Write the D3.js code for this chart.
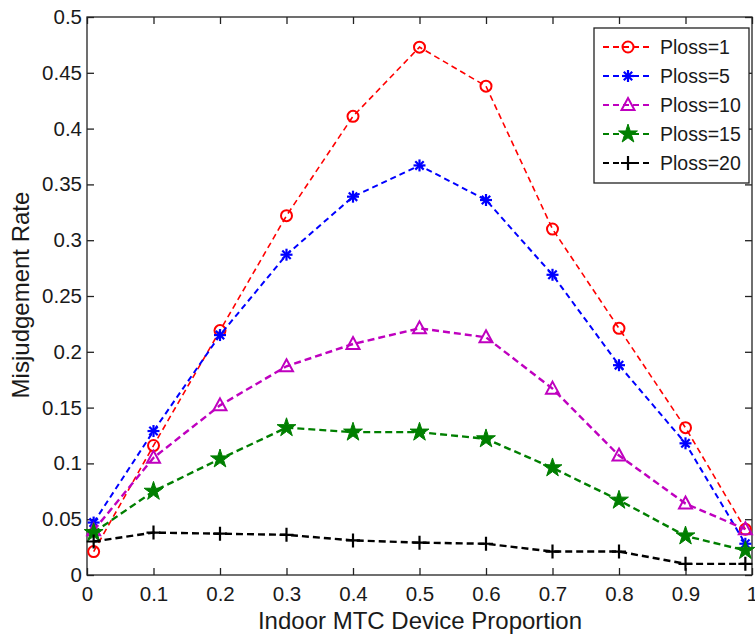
<!DOCTYPE html>
<html>
<head>
<meta charset="utf-8">
<script src="https://cdn.jsdelivr.net/npm/d3@7/dist/d3.min.js"></script>
<style>
  body { margin: 0; background: #fff; }
  svg text { font-family: "Liberation Sans", Arial, sans-serif; fill: #1a1a1a; }
</style>
</head>
<body>
<div id="chart"></div>
<script>
// data
const proportions = [0.01, 0.1, 0.2, 0.3, 0.4, 0.5, 0.6, 0.7, 0.8, 0.9, 0.99];
const ploss1 = [0.021, 0.116, 0.219, 0.322, 0.411, 0.473, 0.438, 0.310, 0.221, 0.132, 0.041];
const ploss5 = [0.047, 0.129, 0.215, 0.287, 0.339, 0.367, 0.336, 0.269, 0.188, 0.118, 0.028];
const ploss10 = [0.040, 0.105, 0.152, 0.187, 0.207, 0.221, 0.213, 0.167, 0.107, 0.064, 0.041];
const ploss15 = [0.038, 0.075, 0.104, 0.132, 0.128, 0.128, 0.122, 0.096, 0.067, 0.035, 0.022];
const ploss20 = [0.030, 0.038, 0.037, 0.036, 0.031, 0.029, 0.028, 0.021, 0.021, 0.010, 0.010];
const xTicks = [0, 0.1, 0.2, 0.3, 0.4, 0.5, 0.6, 0.7, 0.8, 0.9, 1];
const yTicks = [0, 0.05, 0.1, 0.15, 0.2, 0.25, 0.3, 0.35, 0.4, 0.45, 0.5];

const series = [
  { name: 'Ploss=1', values: ploss1, color: '#ff0000', marker: 'circle', width: 1.6, dash: '6,4' },
  { name: 'Ploss=5', values: ploss5, color: '#0000ff', marker: 'asterisk', width: 2, dash: '6,4' },
  { name: 'Ploss=10', values: ploss10, color: '#bf00bf', marker: 'triangle', width: 2.4, dash: '7,4' },
  { name: 'Ploss=15', values: ploss15, color: '#007f00', marker: 'star', width: 2.4, dash: '7,4' },
  { name: 'Ploss=20', values: ploss20, color: '#000000', marker: 'plus', width: 2.4, dash: '7,4' },
];

const width = 755, height = 639;
const m = { left: 87, right: 752, top: 17, bottom: 575 };

const svg = d3.select('#chart').append('svg')
  .attr('width', width).attr('height', height);

const x = d3.scaleLinear().domain([0, 1]).range([m.left, m.right]);
const y = d3.scaleLinear().domain([0, 0.5]).range([m.bottom, m.top]);

const fmt = (d) => String(+d.toFixed(2));

// axes, ticks inward
const axisStyle = (g) => {
  g.select('.domain').remove();
  g.selectAll('.tick line').attr('stroke', '#222').attr('stroke-width', 1.3);
  g.selectAll('.tick text').style('font-size', '20.5px');
};
svg.append('g')
  .attr('transform', `translate(0,${m.bottom})`)
  .call(d3.axisBottom(x).tickValues(xTicks).tickSize(-7).tickPadding(11).tickFormat(fmt))
  .call(axisStyle);
svg.append('g')
  .attr('transform', `translate(0,${m.top})`)
  .call(d3.axisTop(x).tickValues(xTicks).tickSize(-7).tickFormat(''))
  .call(axisStyle);
svg.append('g')
  .attr('transform', `translate(${m.left},0)`)
  .call(d3.axisLeft(y).tickValues(yTicks).tickSize(-7).tickPadding(5).tickFormat(fmt))
  .call(axisStyle);
svg.append('g')
  .attr('transform', `translate(${m.right},0)`)
  .call(d3.axisRight(y).tickValues(yTicks).tickSize(-7).tickFormat(''))
  .call(axisStyle);

svg.append('rect')
  .attr('x', m.left).attr('y', m.top)
  .attr('width', m.right - m.left).attr('height', m.bottom - m.top)
  .attr('fill', 'none').attr('stroke', '#222').attr('stroke-width', 1.3);

svg.append('text')
  .attr('x', 420).attr('y', 629)
  .attr('text-anchor', 'middle')
  .style('font-size', '24px')
  .text('Indoor MTC Device Proportion');
svg.append('text')
  .attr('transform', 'translate(29,295) rotate(-90)')
  .attr('text-anchor', 'middle')
  .style('font-size', '24px')
  .text('Misjudgement Rate');

function drawMarker(g, type, color) {
  if (type === 'circle') {
    g.append('circle').attr('r', 5.5).attr('fill', 'none')
      .attr('stroke', color).attr('stroke-width', 2);
  } else if (type === 'asterisk') {
    const r = 6;
    const p = [[-r, 0, r, 0], [0, -r, 0, r], [-r * 0.7, -r * 0.7, r * 0.7, r * 0.7], [-r * 0.7, r * 0.7, r * 0.7, -r * 0.7]];
    p.forEach((l) => g.append('line')
      .attr('x1', l[0]).attr('y1', l[1]).attr('x2', l[2]).attr('y2', l[3])
      .attr('stroke', color).attr('stroke-width', 2.2));
  } else if (type === 'triangle') {
    g.append('path').attr('d', 'M0,-7 L6.5,5 L-6.5,5 Z').attr('fill', 'none')
      .attr('stroke', color).attr('stroke-width', 2);
  } else if (type === 'star') {
    g.append('path').attr('d', d3.symbol(d3.symbolStar, 110)())
      .attr('fill', color).attr('stroke', color).attr('stroke-width', 1);
  } else if (type === 'plus') {
    g.append('path').attr('d', 'M-7,0 L7,0 M0,-7 L0,7')
      .attr('stroke', color).attr('stroke-width', 2.2);
  }
}

const line = d3.line().x((d) => x(d[0])).y((d) => y(d[1]));

series.forEach((s) => {
  const pts = proportions.map((p, i) => [p, s.values[i]]);
  svg.append('path')
    .datum(pts)
    .attr('d', line)
    .attr('fill', 'none')
    .attr('stroke', s.color)
    .attr('stroke-width', s.width)
    .attr('stroke-dasharray', s.dash);
  pts.forEach((d) => {
    const g = svg.append('g').attr('transform', `translate(${x(d[0])},${y(d[1])})`);
    drawMarker(g, s.marker, s.color);
  });
});

// legend
const legend = svg.append('g');
legend.append('rect')
  .attr('x', 594).attr('y', 28).attr('width', 155).attr('height', 155)
  .attr('fill', '#fff').attr('stroke', '#222').attr('stroke-width', 1.3);
series.forEach((s, i) => {
  const ly = 47 + i * 29;
  legend.append('line')
    .attr('x1', 603).attr('x2', 651).attr('y1', ly).attr('y2', ly)
    .attr('stroke', s.color).attr('stroke-width', 2).attr('stroke-dasharray', '6,4');
  const g = legend.append('g').attr('transform', `translate(628,${ly})`);
  drawMarker(g, s.marker, s.color);
  legend.append('text')
    .attr('x', 660).attr('y', ly + 7)
    .style('font-size', '19.5px')
    .text(s.name);
});
</script>
</body>
</html>
